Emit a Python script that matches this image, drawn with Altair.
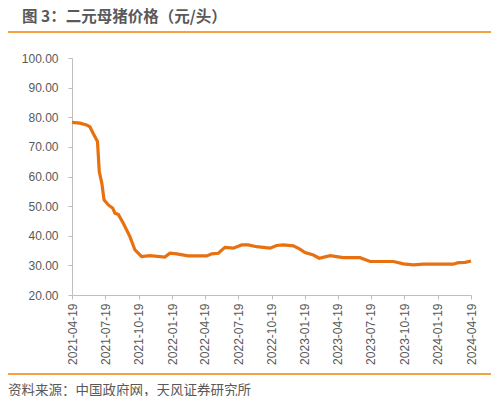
import altair as alt
import pandas as pd

# 二元母猪价格（元/头），读图估计
dates = [
    "2021-04-19", "2021-05-11", "2021-05-29", "2021-06-07", "2021-06-16",
    "2021-06-28", "2021-07-03", "2021-07-10", "2021-07-16", "2021-07-28",
    "2021-08-09", "2021-08-15", "2021-08-24", "2021-09-07", "2021-09-25",
    "2021-10-09", "2021-10-27", "2021-11-19", "2021-12-30", "2022-01-13",
    "2022-02-01", "2022-03-04", "2022-03-28", "2022-04-24", "2022-05-08",
    "2022-05-26", "2022-06-13", "2022-07-06", "2022-07-29", "2022-08-16",
    "2022-09-08", "2022-10-15", "2022-11-02", "2022-11-20", "2022-12-18",
    "2023-01-05", "2023-01-19", "2023-02-11", "2023-02-27", "2023-03-29",
    "2023-05-04", "2023-06-19", "2023-07-17", "2023-09-19", "2023-10-16",
    "2023-11-13", "2023-12-10", "2024-03-01", "2024-03-15", "2024-04-03",
    "2024-04-19",
]
prices = [
    78.3, 78.0, 77.4, 76.8, 74.6,
    71.8, 61.6, 57.7, 52.1, 50.4,
    49.3, 47.6, 47.2, 44.2, 39.7,
    35.2, 33.0, 33.3, 32.8, 34.1,
    33.9, 33.2, 33.2, 33.2, 33.9,
    34.1, 36.1, 35.8, 36.9, 36.9,
    36.3, 35.8, 36.7, 36.9, 36.6,
    35.5, 34.3, 33.5, 32.4, 33.3,
    32.6, 32.6, 31.3, 31.3, 30.5,
    30.2, 30.4, 30.4, 30.9, 31.0,
    31.5,
]
tick_dates = [
    "2021-04-19", "2021-07-19", "2021-10-19", "2022-01-19", "2022-04-19",
    "2022-07-19", "2022-10-19", "2023-01-19", "2023-04-19", "2023-07-19",
    "2023-10-19", "2024-01-19", "2024-04-19",
]
y_ticks = [20, 30, 40, 50, 60, 70, 80, 90, 100]

title_text = "图 3：二元母猪价格（元/头）"
source_text = "资料来源：中国政府网，天风证券研究所"

df = pd.DataFrame({"date": pd.to_datetime(dates), "price": prices})

W, H = 399, 237
FONT = "Liberation Sans"
GRAY = "#595959"
ORANGE = "#F08300"

tick_vals = [alt.DateTime(year=int(d[:4]), month=int(d[5:7]), date=int(d[8:]))
             for d in tick_dates]

line = alt.Chart(df).mark_line(color="#E8710F", strokeWidth=3.2, interpolate="linear").encode(
    x=alt.X("date:T",
            scale=alt.Scale(domain=[alt.DateTime(year=2021, month=4, date=19),
                                    alt.DateTime(year=2024, month=4, date=19)]),
            axis=alt.Axis(values=tick_vals, format="%Y-%m-%d", labelAngle=-90,
                          labelAlign="right", labelBaseline="middle",
                          labelFontSize=12, labelColor=GRAY, labelFont=FONT,
                          labelPadding=4, tickSize=4, tickColor="#BFBFBF",
                          domainColor="#BFBFBF", grid=False, title=None,
                          labelOverlap=False, labelFlush=False)),
    y=alt.Y("price:Q",
            scale=alt.Scale(domain=[20, 100], nice=False, zero=False),
            axis=alt.Axis(values=y_ticks, format=".2f", labelFontSize=12,
                          labelColor=GRAY, labelFont=FONT, labelPadding=10,
                          tickSize=4, tickColor="#BFBFBF", domainColor="#BFBFBF",
                          grid=False, title=None)),
)

# 标题要留在画布内（画布上沿在页面 y=8 处）
title = alt.Chart(pd.DataFrame({"t": [title_text]})).mark_text(
    align="left", baseline="middle", fontSize=15.5, fontWeight="bold",
    font="Noto Sans CJK SC", color=GRAY,
).encode(text="t:N", x=alt.value(-50), y=alt.value(-41))

source = alt.Chart(pd.DataFrame({"t": [source_text]})).mark_text(
    align="left", baseline="middle", fontSize=13.5,
    font="Noto Sans CJK SC", color=GRAY,
).encode(text="t:N", x=alt.value(-64), y=alt.value(333))

top_rule = alt.Chart(pd.DataFrame({"a": [0]})).mark_rule(color=ORANGE, strokeWidth=1.5).encode(
    x=alt.value(-66), x2=alt.value(424), y=alt.value(-26))
bottom_rule = alt.Chart(pd.DataFrame({"a": [0]})).mark_rule(color=ORANGE, strokeWidth=1.5).encode(
    x=alt.value(-66), x2=alt.value(422), y=alt.value(316))

chart = alt.layer(line, top_rule, bottom_rule, title, source).properties(
    width=W, height=H,
    autosize=alt.AutoSizeParams(type="none"),
    padding={"left": 64, "top": 50, "right": 20, "bottom": 101},
).configure_view(stroke=None)

chart.save("out.html", embed_options={"renderer": "svg", "actions": False})
